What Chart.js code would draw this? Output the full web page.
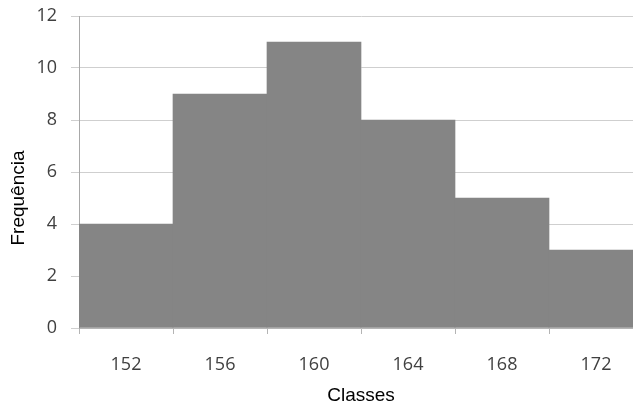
<!DOCTYPE html>
<html>
<head>
<meta charset="utf-8">
<script src="https://cdn.jsdelivr.net/npm/chart.js@4/dist/chart.umd.min.js"></script>
<style>
  html, body { margin: 0; padding: 0; overflow: hidden; background: #fff; }
  #wrap { width: 633px; height: 408px; overflow: hidden; }
</style>
</head>
<body>
<div id="wrap"><canvas id="hist" width="645" height="408"></canvas></div>
<script>
const classes   = ['152', '156', '160', '164', '168', '172'];
const frequency = [4, 9, 11, 8, 5, 3];
const yTicks    = [0, 2, 4, 6, 8, 10, 12];

const xTitle = 'Classes';
const yTitle = 'Frequência';

const tickFont  = { family: 'Open Sans', size: 18 };
const titleFont = { family: 'Liberation Sans', size: 19 };

// y title sits lower than the plot centre in the original, so draw it by hand
const yTitlePlugin = {
  id: 'yTitle',
  afterDraw(chart) {
    const ctx = chart.ctx;
    ctx.save();
    ctx.translate(19, 198);
    ctx.rotate(-Math.PI / 2);
    ctx.font = `${titleFont.size}px "${titleFont.family}"`;
    ctx.fillStyle = '#000';
    ctx.textAlign = 'center';
    ctx.textBaseline = 'middle';
    ctx.fillText(yTitle, 0, 0);
    ctx.restore();
  }
};

new Chart(document.getElementById('hist'), {
  type: 'bar',
  data: {
    labels: classes,
    datasets: [{
      data: frequency,
      backgroundColor: '#858585',
      borderWidth: 0,
      barPercentage: 1,
      categoryPercentage: 1
    }]
  },
  options: {
    responsive: false,
    animation: false,
    layout: { padding: { top: 0, right: 2, left: 0, bottom: 0 } },
    plugins: { legend: { display: false }, tooltip: { enabled: false } },
    scales: {
      x: {
        grid: {
          offset: true,
          drawOnChartArea: false,
          drawTicks: true,
          tickLength: 6,
          color: '#b4b4b4'
        },
        border: { color: '#b4b4b4' },
        ticks: { font: tickFont, color: '#404040', padding: 20 },
        title: {
          display: true,
          text: xTitle,
          font: titleFont,
          color: '#000',
          padding: { top: 0, bottom: 1 }
        },
        afterFit(scale) { scale.height = 80; }
      },
      y: {
        min: 0,
        max: 12,
        afterBuildTicks(scale) { scale.ticks = yTicks.map(v => ({ value: v })); },
        grid: { color: '#cfcfcf', tickLength: 8 },
        border: { color: '#a8a8a8' },
        ticks: { font: tickFont, color: '#404040', padding: 14 },
        afterFit(scale) {
          scale.width = 79;
          scale.paddingTop = 16;
          scale.paddingBottom = 0;
        }
      }
    }
  },
  plugins: [yTitlePlugin]
});
</script>
</body>
</html>
